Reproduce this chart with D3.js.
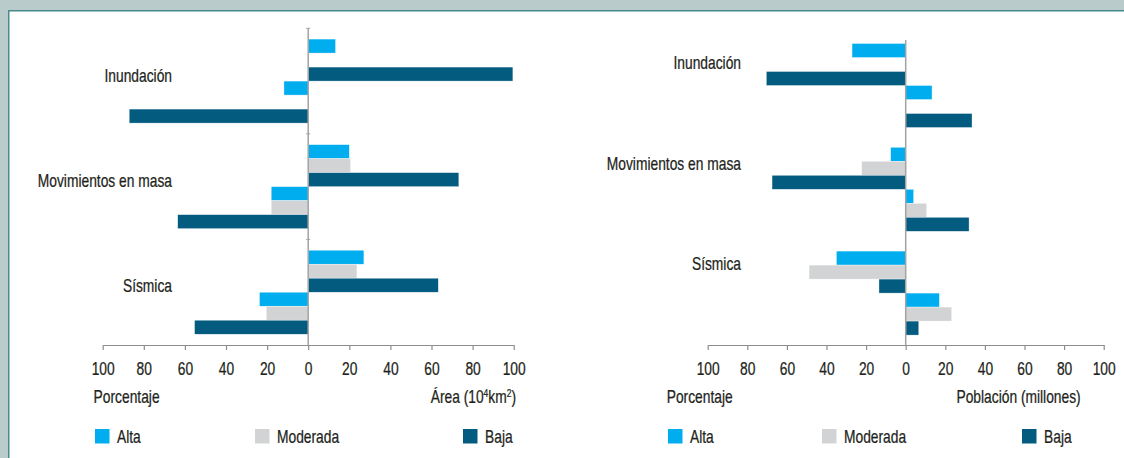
<!DOCTYPE html>
<html><head><meta charset="utf-8">
<script src="https://cdn.jsdelivr.net/npm/d3@7/dist/d3.min.js"></script>
<style>
html,body{margin:0;padding:0;background:#b9cbcb;}
svg{display:block;}
text{font-family:"Liberation Sans",Arial,sans-serif;fill:#231f20;stroke:#231f20;stroke-width:0.25px;}
</style></head>
<body>
<svg id="chart" width="1124" height="458"></svg>
<script>
// ---- data ----
const categories = ["Inundación", "Movimientos en masa", "Sísmica"];
const levels = ["Alta", "Moderada", "Baja"];
const levelColors = ["#00aeef", "#d1d3d4", "#035b7f"];

// Left chart: Área (10^4 km²) [positive] and Porcentaje [negative]
const areaAlta = [13.3, 20.0, 27.1];
const areaModerada = [0, 20.6, 23.7];
const areaBaja = [99.6, 73.3, 63.3];
const areaPctAlta = [11.8, 18.0, 23.7];
const areaPctModerada = [0, 18.0, 20.4];
const areaPctBaja = [87.1, 63.5, 55.3];

// Right chart: Porcentaje [negative] and Población (millones) [positive]
const poblPctAlta = [27.1, 7.6, 35.0];
const poblPctModerada = [0, 22.2, 48.8];
const poblPctBaja = [70.4, 67.5, 13.5];
const poblAlta = [13.3, 4.0, 17.0];
const poblModerada = [0, 10.6, 23.2];
const poblBaja = [33.5, 32.0, 6.6];

const tickValues = [-100, -80, -60, -40, -20, 0, 20, 40, 60, 80, 100];
const tickLabels = ["100", "80", "60", "40", "20", "0", "20", "40", "60", "80", "100"];

const leftAxisTitle = "Porcentaje";
const leftChartRightTitle = "Área (10";
const rightChartRightTitle = "Población (millones)";

// ---- drawing ----
const SX = 0.767; // condensed text
const FS = "18px";
const svg = d3.select("#chart");
svg.append("rect").attr("x", 8.75).attr("y", 10.75).attr("width", 1124).attr("height", 460)
  .attr("fill", "#fff").attr("stroke", "#468a8d").attr("stroke-width", 1.5);

function place(sel, x, y) {
  return sel.attr("transform", `translate(${x},${y}) scale(${SX},1)`).style("font-size", FS);
}

function drawChart(cfg) {
  const x = d3.scaleLinear().domain([-100, 100]).range([cfg.x0, cfg.x1]);
  const y = d3.scaleBand().domain(categories).range([cfg.yTop, cfg.yBottom]).padding(0);
  const inner = d3.scaleBand().domain(d3.range(6)).range([0, y.bandwidth()])
    .paddingInner(0).paddingOuter(cfg.outerPad);
  const g = svg.append("g");

  const rows = [];
  categories.forEach((c, ci) => {
    cfg.series.forEach((s, si) => {
      rows.push({cat: c, slot: si, value: s.sign * s.values[ci], color: levelColors[s.level]});
    });
  });
  g.selectAll("rect.bar").data(rows.filter(d => d.value !== 0)).join("rect")
    .attr("class", "bar")
    .attr("x", d => Math.min(x(0), x(d.value)))
    .attr("width", d => Math.abs(x(d.value) - x(0)))
    .attr("y", d => y(d.cat) + inner(d.slot))
    .attr("height", inner.bandwidth())
    .attr("fill", d => d.color)
    .attr("stroke", "#ffffff").attr("stroke-width", 0.5).attr("stroke-opacity", 0.7);

  g.append("line").attr("x1", x(0)).attr("x2", x(0))
    .attr("y1", cfg.zeroTop).attr("y2", cfg.yBottom)
    .attr("stroke", "#a3a3a3").attr("stroke-width", 1.5);
  if (cfg.catTicks) {
    const b = categories.map(c => y(c));
    g.selectAll("line.ct").data(b).join("line").attr("class", "ct")
      .attr("x1", x(0) - 2).attr("x2", x(0) + 2)
      .attr("y1", d => d).attr("y2", d => d)
      .attr("stroke", "#a3a3a3").attr("stroke-width", 1);
  }

  const ax = g.append("g").attr("transform", `translate(0,${cfg.yBottom})`)
    .call(d3.axisBottom(x).tickValues(tickValues).tickSize(5).tickSizeOuter(0)
      .tickFormat((d, i) => tickLabels[i]));
  ax.select(".domain").attr("stroke", "#8e8e8e").attr("stroke-width", 1.2);
  ax.selectAll(".tick line").attr("stroke", "#8e8e8e").attr("stroke-width", 1.2);
  ax.selectAll(".tick text").attr("y", null).attr("dy", null).attr("fill", "#231f20")
    .attr("transform", `translate(0,30) scale(${SX},1)`).style("font-size", FS);

  const labY = d3.scaleBand().domain(categories).range(cfg.labelRange);
  g.selectAll("text.cat").data(categories).join("text").attr("class", "cat")
    .attr("text-anchor", "end").text(d => d)
    .each(function(d) { place(d3.select(this), cfg.labelX, labY(d) + labY.bandwidth() / 2); });

  place(g.append("text"), cfg.titleLeftX, 403).text(leftAxisTitle);
  const rt = place(g.append("text").attr("text-anchor", "end"), cfg.titleRightX, 403);
  if (cfg.areaTitle) {
    rt.append("tspan").text(leftChartRightTitle);
    rt.append("tspan").attr("dy", -6).style("font-size", "11px").text("4");
    rt.append("tspan").attr("dy", 6).text("km");
    rt.append("tspan").attr("dy", -6).style("font-size", "11px").text("2");
    rt.append("tspan").attr("dy", 6).text(")");
  } else {
    rt.text(rightChartRightTitle);
  }

  const lg = g.selectAll("g.leg").data(levels).join("g").attr("class", "leg")
    .attr("transform", (d, i) => `translate(${cfg.legendX[i]},429)`);
  lg.append("rect").attr("width", 14.5).attr("height", 14.5).attr("fill", (d, i) => levelColors[i]);
  lg.append("text").text(d => d).each(function() { place(d3.select(this), 22, 14); });
}

drawChart({
  x0: 102.7, x1: 513.7, yTop: 28.3, yBottom: 345, zeroTop: 28.3, outerPad: 0.77,
  catTicks: true, labelX: 172, labelRange: [29, 345], areaTitle: true,
  titleLeftX: 93.6, titleRightX: 516,
  legendX: [95, 255, 463],
  series: [
    {values: areaAlta, sign: 1, level: 0},
    {values: areaModerada, sign: 1, level: 1},
    {values: areaBaja, sign: 1, level: 2},
    {values: areaPctAlta, sign: -1, level: 0},
    {values: areaPctModerada, sign: -1, level: 1},
    {values: areaPctBaja, sign: -1, level: 2}
  ]
});

drawChart({
  x0: 707.7, x1: 1103.7, yTop: 33.6, yBottom: 345, zeroTop: 40, outerPad: 0.707,
  catTicks: false, labelX: 741, labelRange: [19, 320], areaTitle: false,
  titleLeftX: 666.7, titleRightX: 1080.7,
  legendX: [668, 822, 1022],
  series: [
    {values: poblPctAlta, sign: -1, level: 0},
    {values: poblPctModerada, sign: -1, level: 1},
    {values: poblPctBaja, sign: -1, level: 2},
    {values: poblAlta, sign: 1, level: 0},
    {values: poblModerada, sign: 1, level: 1},
    {values: poblBaja, sign: 1, level: 2}
  ]
});
</script>
</body></html>
